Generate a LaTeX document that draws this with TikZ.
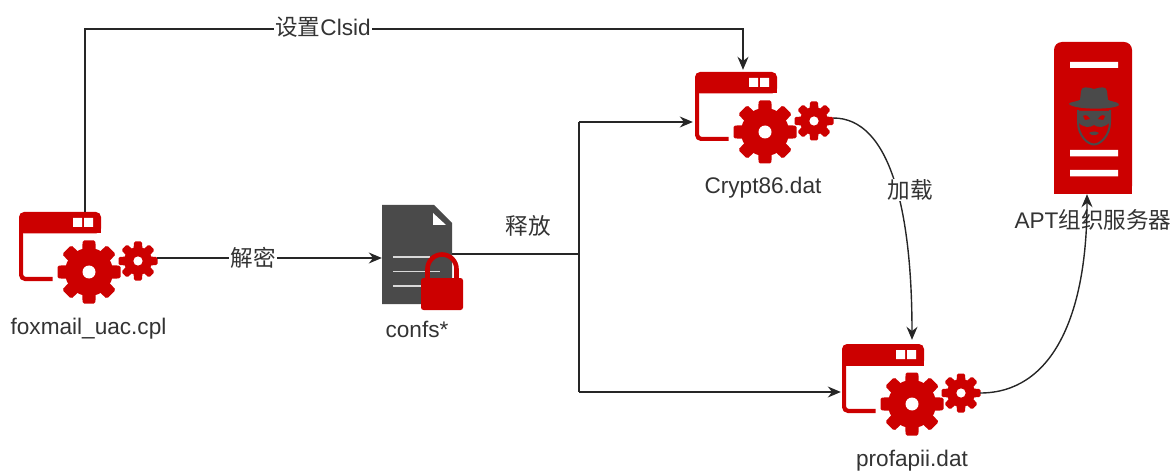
\documentclass[tikz,border=0pt]{standalone}
\usepackage{fontspec}
\setmainfont{Liberation Sans}
\newfontfamily\cjk{Noto Sans CJK SC}
\usetikzlibrary{arrows.meta,calc}
\definecolor{mainred}{HTML}{CC0000}
\definecolor{docgrey}{HTML}{4A4A4A}
\definecolor{txt}{HTML}{333333}
\newcommand{\gearshape}[3]{% radius, body, tooth half width
  \fill[mainred] (0,0) circle (#2);
  \foreach \a in {0,45,...,315}{
    \fill[mainred,rotate=\a,rounded corners=1.5pt] (0,-#3) -- (#1,-#3*0.85) -- (#1,#3*0.85) -- (0,#3) -- cycle;
  }
}
\tikzset{
  conn/.style={draw=black!85,line width=1.4pt,-{Stealth[length=13pt,width=11pt]}},
  plain/.style={draw=black!85,line width=1.4pt},
  iconbox/.style={inner sep=0pt,minimum width=138pt,minimum height=92pt},
  lbl/.style={text=txt,font=\fontsize{22.6}{26}\selectfont,inner sep=0pt},
  edgelbl/.style={text=txt,font=\fontsize{22.6}{26}\selectfont,inner sep=1pt,fill=white},
  appgear/.pic={
    \fill[mainred,rounded corners=5pt] (0,0) -- (82,0) -- (82,21.5) -- (0,21.5) -- cycle;
    \fill[mainred] (0,8) rectangle (82,21.5);
    \draw[mainred,line width=4.2pt,rounded corners=4pt] (2.1,18) -- (2.1,66.9) -- (33.5,66.9);
    \fill[white] (54,6) rectangle (63,15) (65,6) rectangle (74,15);
    \begin{scope}[shift={(70,60)}]
      \gearshape{31.5}{24}{7.5}
      \fill[white] (0,0) circle (6.5);
    \end{scope}
    \begin{scope}[shift={(119,49)}]
      \gearshape{19.5}{14}{4.8}
      \fill[white] (0,0) circle (4.6);
    \end{scope}
  }
}
\begin{document}
\begin{tikzpicture}[x=1pt,y=-1pt]
\useasboundingbox (0,0) rectangle (1173,473);

% icons
\node[iconbox] (fox) at (88,258) {};
\pic at (19,212) {appgear};
\node[iconbox] (crypt) at (764,118) {};
\pic at (695,72) {appgear};
\node[iconbox] (prof) at (911,390) {};
\pic at (842,344) {appgear};

\coordinate (split) at (579,254);
\coordinate (foxup) at ($(fox.north)+(-3,0)$);
\coordinate (cryptin) at ($(crypt.north)+(-21,-2)$);
\coordinate (cornerA) at (foxup |- 0,29);
\coordinate (cornerB) at (cryptin |- 0,29);
\coordinate (splitT) at (579,122);
\coordinate (splitB) at (579,392);

% document
\node[inner sep=0pt,minimum width=70pt,minimum height=99pt] (doc) at (417,254) {};
\draw[plain] (doc.east) -- (split);
\draw[plain] (splitT) -- (splitB);
\draw[conn] (splitT) -- ($(crypt.west)+(-2,4)$);
\draw[conn] (splitB) -- ($(prof.west)+(-1,2)$);
\draw[conn] (fox.east) -- ($(doc.west)+(0,4)$);
\draw[conn] (foxup) -- (cornerA) -- (cornerB) -- (cryptin);

\fill[docgrey] (382,205) -- (434,205) -- (452,223) -- (452,304) -- (382,304) -- cycle;
\fill[white] (433,213) -- (433,225) -- (446,225) -- cycle;
\draw[white!85!black,line width=1.6pt] (393,257) -- (430,257) (393,271.5) -- (440,271.5) (393,286) -- (430,286);
\draw[mainred,line width=4.6pt] (427.5,280) -- (427.5,269) arc (180:360:14.5) -- (456.5,280);
\fill[mainred,rounded corners=2.5pt] (421,278) rectangle (463,310);

% server
\node[inner sep=0pt,minimum width=78pt,minimum height=152pt] (srv) at (1093,118) {};
\fill[mainred,rounded corners=8pt] (1054,194) -- (1054,42) -- (1132,42) -- (1132,194) -- cycle;
\fill[mainred] (1054,180) rectangle (1132,194);
\fill[white] (1070,62) rectangle (1118,68) (1070,150) rectangle (1118,156.5) (1070,170) rectangle (1118,176.5);
% spy
\fill[docgrey] (1069,104) .. controls (1069,102) and (1075,102) .. (1080,100) -- (1081,91) .. controls (1082,86) and (1087,87) .. (1094,89) .. controls (1101,87) and (1106,86) .. (1107,91) -- (1108,100) .. controls (1113,102) and (1119,102) .. (1119,105) .. controls (1115,110) and (1074,110) .. (1069,104) -- cycle;
\draw[docgrey,line width=2pt] (1078,110) -- (1078,122) .. controls (1078,136) and (1088,144.5) .. (1094,144.5) .. controls (1100,144.5) and (1110,136) .. (1110,122) -- (1110,110);
\fill[docgrey] (1078,111) -- (1110,111) -- (1110,122) .. controls (1105,128) and (1098,128) .. (1094,125) .. controls (1090,128) and (1083,128) .. (1078,122) -- cycle;
\fill[mainred] (1083,116) .. controls (1086,114) and (1088,116) .. (1090,119) -- (1085,120) -- cycle (1105,116) .. controls (1102,114) and (1100,116) .. (1098,119) -- (1103,120) -- cycle;
\fill[docgrey] (1089,133) .. controls (1092,131) and (1096,131) .. (1099,133) .. controls (1096,136) and (1092,136) .. (1089,133) -- cycle;

% labels
\node[lbl] (foxl) at (88.5,329) {foxmail\_uac.cpl};
\node[lbl] (docl) at (417,329) {confs*};
\node[lbl] (cryptl) at (763,188) {Crypt86.dat};
\node[lbl] (profl) at (912,461) {profapii.dat};
\node[lbl] (srvl) at (1093,220) {APT{\cjk 组织服务器}};

% curved connectors
\draw[conn] (crypt.east) .. controls (890,118) and (912,210) .. ($(prof.north)+(1,-4)$);
\draw[conn] ($(prof.east)+(-0,3)$) .. controls (1050,393) and (1087,320) .. (srv.south -| 1087,0);

% edge labels
\node[edgelbl] (l1) at (323,27) {{\cjk 设置}Clsid};
\node[edgelbl] (l2) at (253,258) {\cjk 解密};
\node[lbl] (l3) at (528,226) {\cjk 释放};
\node[edgelbl] (l4) at (910,190) {\cjk 加载};
\end{tikzpicture}
\end{document}
